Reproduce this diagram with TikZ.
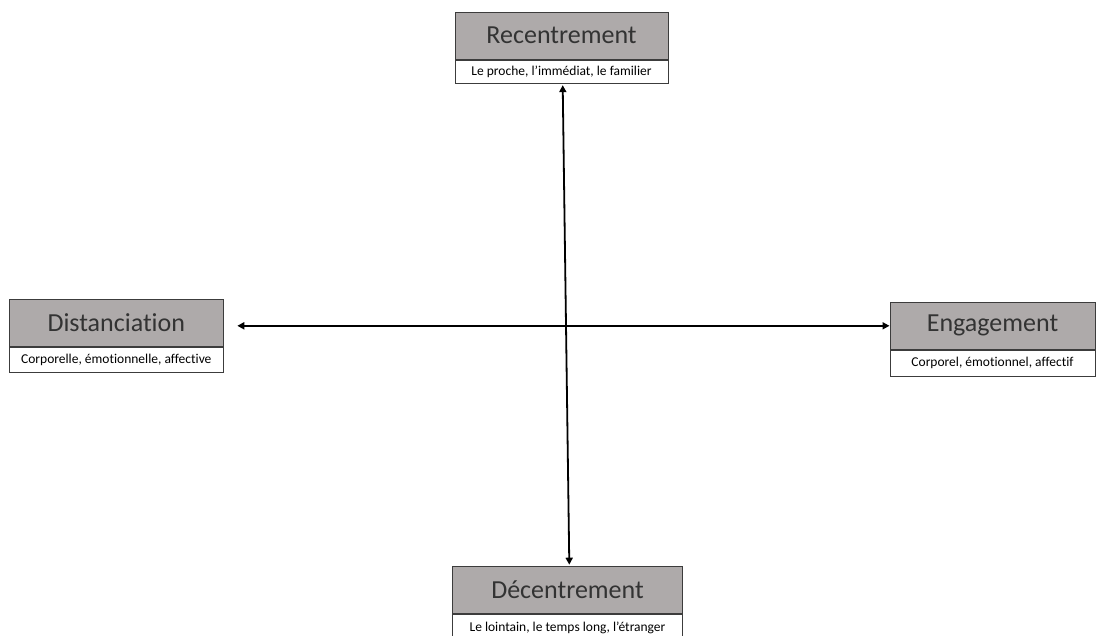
\documentclass[tikz,border=0pt]{standalone}
\usepackage{fontspec}
\setmainfont{Carlito}[Ligatures=NoCommon]
\usetikzlibrary{arrows.meta}
\definecolor{boxgrey}{RGB}{174,170,170}
\definecolor{edgegrey}{RGB}{60,60,60}
\tikzset{
  titlebox/.style={draw=edgegrey, line width=1pt, fill=boxgrey, inner sep=0pt, minimum height=46.7pt, font=\fontsize{26}{28}\selectfont, text=black!80},
  subbox/.style={draw=edgegrey, line width=0.8pt, fill=white, inner sep=0pt, anchor=north, font=\fontsize{13.5}{15}\selectfont},
  axis/.style={line width=1.8pt, {Triangle[length=7pt,width=7pt]}-{Triangle[length=7pt,width=7pt]}}
}
\begin{document}
\begin{tikzpicture}[x=1pt,y=-1pt]
\useasboundingbox (0,0) rectangle (1097,635);
\node[titlebox, minimum width=213pt] (rec) at (561.5,35.7) {Recentrement};
\node[subbox, minimum width=213pt, minimum height=23.3pt] (recsub) at (rec.south) {Le proche, l’immédiat, le familier};
\node[titlebox, minimum width=214pt] (dis) at (116.3,322.7) {Distanciation};
\node[subbox, minimum width=214pt, minimum height=25.7pt] (dissub) at (dis.south) {Corporelle, émotionnelle, affective};
\node[titlebox, minimum width=205pt, minimum height=47pt] (eng) at (992.5,325.8) {Engagement};
\node[subbox, minimum width=205pt, minimum height=25.7pt] (engsub) at (eng.south) {Corporel, émotionnel, affectif};
\node[titlebox, minimum width=230.4pt, minimum height=46.6pt] (dec) at (567.5,590) {Décentrement};
\node[subbox, minimum width=230.4pt, minimum height=26.7pt] (decsub) at (dec.south) {Le lointain, le temps long, l’étranger};
\coordinate (left) at (237.3,325.8);
\draw[axis] ([xshift=1.2pt,yshift=-1.5pt]recsub.south) -- ([xshift=1.8pt,yshift=1.5pt]dec.north);
\draw[axis] (left) -- (eng.west);
\end{tikzpicture}
\end{document}
